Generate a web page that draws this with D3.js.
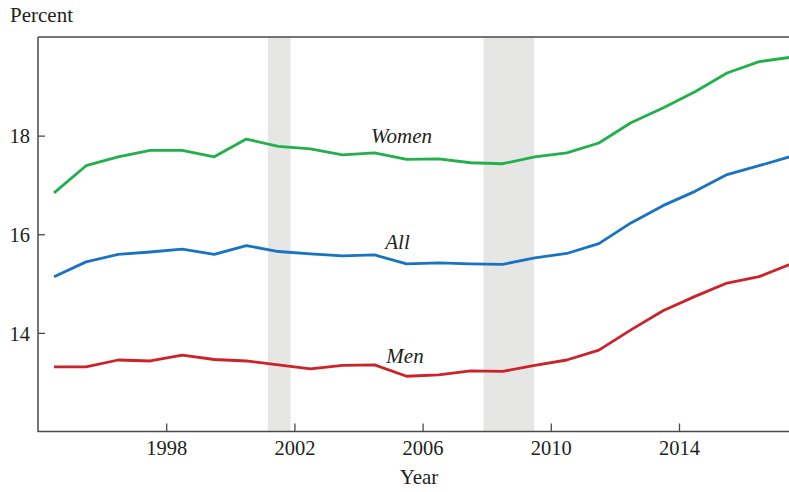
<!DOCTYPE html>
<html><head><meta charset="utf-8">
<script src="https://cdn.jsdelivr.net/npm/d3@7"></script>
<style>body{margin:0;background:#fff}svg{display:block}text{font-family:"Liberation Serif","Times New Roman",serif;fill:#231f20}</style>
</head><body>
<svg id="c" width="789" height="492"></svg>
<script>
const years = d3.range(1994, 2018);
const women = [16.84,17.39,17.57,17.70,17.70,17.57,17.93,17.78,17.73,17.61,17.65,17.52,17.53,17.45,17.43,17.57,17.65,17.85,18.26,18.56,18.89,19.27,19.50,19.59];
const all   = [15.14,15.44,15.59,15.64,15.70,15.59,15.77,15.65,15.60,15.56,15.58,15.40,15.42,15.40,15.39,15.52,15.61,15.81,16.23,16.58,16.87,17.21,17.39,17.58];
const men   = [13.31,13.31,13.45,13.43,13.55,13.46,13.43,13.35,13.27,13.34,13.35,13.12,13.15,13.23,13.22,13.34,13.45,13.65,14.06,14.45,14.74,15.01,15.14,15.40];
const recessions = [[2001.17, 2001.88], [2007.9, 2009.48]];
const xTicks = [1998, 2002, 2006, 2010, 2014];
const yTicks = [14, 16, 18];
const seriesNames = ["Women", "All", "Men"];
const seriesColors = ["#21b04b", "#1a72c2", "#cc2229"];
const labelPos = [[401.5, 143.3], [397.5, 249], [405, 363.3]];

const svg = d3.select("#c");
const x = d3.scaleLinear().domain([1994, 2018]).range([38, 807.2]);
const y = d3.scaleLinear().domain([12, 20]).range([431.5, 37]);

svg.append("g").selectAll("rect").data(recessions).join("rect")
  .attr("x", d => x(d[0])).attr("width", d => x(d[1]) - x(d[0]))
  .attr("y", y(20)).attr("height", y(12) - y(20)).attr("fill", "#e6e6e4");

const line = d3.line().x((d, i) => x(years[i] + 0.5)).y(d => y(d));
[women, all, men].forEach((s, k) => {
  svg.append("path").datum(s).attr("d", line).attr("fill", "none")
    .attr("stroke", seriesColors[k]).attr("stroke-width", 2.8).attr("stroke-linejoin", "round");
  svg.append("text").attr("x", labelPos[k][0]).attr("y", labelPos[k][1])
    .attr("text-anchor", "middle").attr("font-style", "italic").attr("font-size", 21)
    .text(seriesNames[k]);
});

const axisColor = "#4a4a4a";
// bottom axis
const gx = svg.append("g").attr("transform", `translate(0,${y(12)})`)
  .call(d3.axisTop(x).tickValues(xTicks).tickSize(8).tickFormat(d3.format("d")));
gx.select(".domain").remove();
gx.selectAll("line").attr("stroke", axisColor).attr("stroke-width", 1.3);
gx.selectAll("text").attr("y", 23).attr("dy", 0).attr("font-size", 20.5)
  .attr("font-family", "Liberation Serif").attr("fill", "#231f20");
// left axis
const gy = svg.append("g").attr("transform", `translate(${x(1994)},0)`)
  .call(d3.axisRight(y).tickValues(yTicks).tickSize(7).tickFormat(d3.format("d")));
gy.select(".domain").remove();
gy.selectAll("line").attr("stroke", axisColor).attr("stroke-width", 1.3);
gy.selectAll("text").attr("x", -8).attr("dy", "0.35em").attr("text-anchor", "end")
  .attr("font-size", 20.5).attr("font-family", "Liberation Serif").attr("fill", "#231f20");

// frame lines
svg.append("path").attr("d", `M${x(1994)},${y(20)}L${x(1994)},${y(12)}L789,${y(12)}M${x(1994)},${y(20)}L789,${y(20)}`)
  .attr("fill", "none").attr("stroke", axisColor).attr("stroke-width", 1.5);

svg.append("text").attr("x", 10).attr("y", 22).attr("font-size", 21).text("Percent");
svg.append("text").attr("x", 419).attr("y", 484).attr("text-anchor", "middle").attr("font-size", 21).text("Year");
</script>
</body></html>
